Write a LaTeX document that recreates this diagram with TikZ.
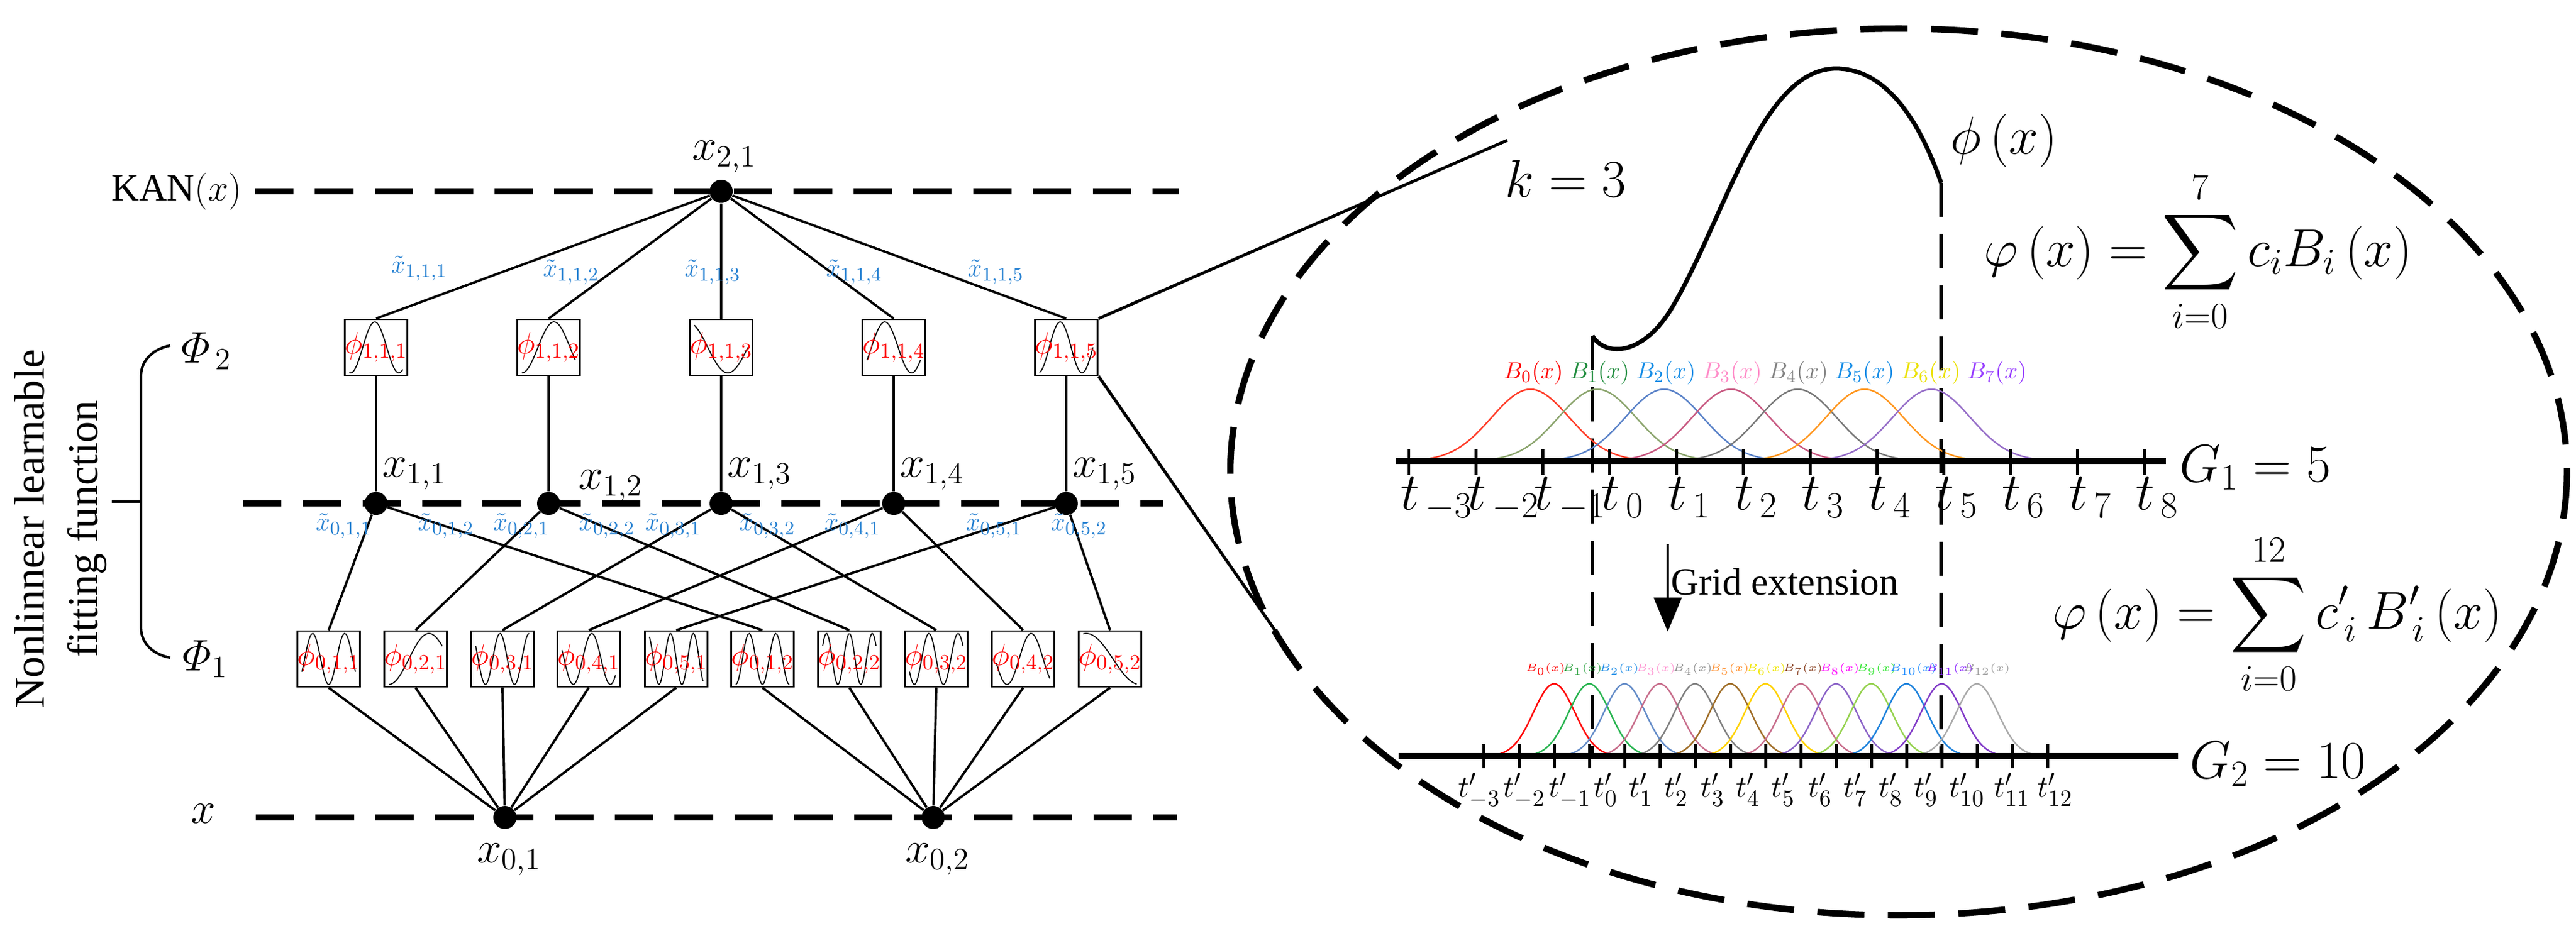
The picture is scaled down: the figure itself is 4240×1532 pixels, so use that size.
\documentclass[tikz,border=0pt]{standalone}
\usepackage{amsmath}
\usepackage{fontspec}
\setmainfont{Liberation Serif}
\usetikzlibrary{arrows.meta}
\newcommand\fsz[1]{\fontsize{#1}{1.25\dimexpr#1pt\relax}\selectfont}
\definecolor{xb}{RGB}{40,130,210}
\definecolor{u0}{RGB}{255,60,40}\definecolor{u1}{RGB}{140,165,110}\definecolor{u2}{RGB}{90,130,200}
\definecolor{u3}{RGB}{200,90,130}\definecolor{u4}{RGB}{120,120,120}\definecolor{u5}{RGB}{255,150,30}
\definecolor{u6}{RGB}{150,110,200}
\definecolor{v0}{RGB}{255,0,0}\definecolor{v1}{RGB}{30,140,60}\definecolor{v2}{RGB}{20,140,230}
\definecolor{v3}{RGB}{255,140,200}\definecolor{v4}{RGB}{130,130,130}\definecolor{v5}{RGB}{20,140,230}
\definecolor{v6}{RGB}{235,225,0}\definecolor{v7}{RGB}{150,60,255}
\definecolor{w0}{RGB}{255,0,0}\definecolor{w1}{RGB}{40,180,80}\definecolor{w2}{RGB}{100,140,200}
\definecolor{w3}{RGB}{200,110,140}\definecolor{w4}{RGB}{128,128,128}\definecolor{w5}{RGB}{160,110,40}
\definecolor{w6}{RGB}{255,210,0}\definecolor{w7}{RGB}{200,110,140}\definecolor{w8}{RGB}{140,100,200}
\definecolor{w9}{RGB}{150,210,80}\definecolor{w10}{RGB}{30,130,220}\definecolor{w11}{RGB}{130,60,200}
\definecolor{w12}{RGB}{170,170,170}
\definecolor{z0}{RGB}{255,0,0}\definecolor{z1}{RGB}{40,160,60}\definecolor{z2}{RGB}{30,140,230}
\definecolor{z3}{RGB}{255,150,210}\definecolor{z4}{RGB}{140,140,140}\definecolor{z5}{RGB}{255,140,40}
\definecolor{z6}{RGB}{240,230,0}\definecolor{z7}{RGB}{140,70,40}\definecolor{z8}{RGB}{255,0,255}
\definecolor{z9}{RGB}{60,230,60}\definecolor{z10}{RGB}{30,140,255}\definecolor{z11}{RGB}{140,40,255}
\definecolor{z12}{RGB}{160,160,160}
\begin{document}
\begin{tikzpicture}[x=0.01cm,y=-0.01cm,
 hl/.style={line width=3pt,dash pattern=on 18pt off 10pt},
 dot/.style={circle,fill=black,inner sep=0pt,minimum size=0.38cm},
 edge/.style={line width=1.1pt},
 fb/.style={draw,line width=0.8pt,minimum size=0.92cm,inner sep=0pt,text=red,font=\fsz{14}},
 big/.style={font=\fsz{22}},
 bl/.style={text=xb,font=\fsz{13},inner sep=0pt}]
\useasboundingbox (0,0) rectangle (4240,1532);

% ---------- box curves (drawn first, behind labels) ----------
\foreach \cx/\cy/\f/\p in {619/572/200/-80, 903/572/150/-120, 1187/572/120/60, 1471/572/180/-30, 1755/572/220/-40,
  541/1085/300/90, 684/1085/120/-150, 827/1085/330/-60, 969/1085/260/-120, 1113/1085/420/0,
  1255/1085/360/90, 1398/1085/420/-90, 1541/1085/330/0, 1684/1085/200/-150, 1827/1085/90/-10}{
  \draw[line width=0.5pt] plot[domain=-1:1,samples=40,smooth] ({\cx+44*\x},{\cy+42*sin(\f*\x+\p)});
}

% ---------- left: layer lines ----------
\node[font=\fsz{18},anchor=east] (kan) at (410,315) {$\mathrm{KAN}(x)$};
\coordinate (kl0) at (420,315); \coordinate (kl1) at (1940,315);
\draw[hl] (kl0) -- (kl1);
\coordinate (ml0) at (400,829); \coordinate (ml1) at (1915,829);
\draw[hl] (ml0) -- (ml1);
\node[font=\fsz{20}] (xin) at (335,1340) {$x$};
\coordinate (bl0) at (421,1346); \coordinate (bl1) at (1937,1346);
\draw[hl] (bl0) -- (bl1);

\node[font=\fsz{20}] (ph2) at (340,578) {$\varPhi_{\,2}$};
\node[font=\fsz{20}] (ph1) at (338,1085) {$\varPhi_1$};
\draw[line width=1.2pt] (280,569) .. controls (250,575) and (232,595) .. (232,619) -- (232,1033) .. controls (232,1058) and (250,1077) .. (280,1083);
\draw[line width=1pt] (184,826) -- (232,826);
\node[rotate=90,align=center,font=\fsz{20}] (nlf) at (100,871) {Nonlinnear learnable\\fitting function};

% ---------- nodes ----------
\node[dot] (x21) at (1187,315) {};
\node[big] (lx21) at (1192,258) {$x_{2,1}$};
\foreach \j/\xx in {1/619,2/903,3/1187,4/1471,5/1755}{
  \node[dot] (x1\j) at (\xx,829) {};
}
\node[big] (lx11) at (682,780) {$x_{1,1}$};
\node[big] (lx12) at (1005,800) {$x_{1,2}$};
\node[big] (lx13) at (1250,780) {$x_{1,3}$};
\node[big] (lx14) at (1534,780) {$x_{1,4}$};
\node[big] (lx15) at (1818,780) {$x_{1,5}$};
\node[dot] (x01) at (831,1346) {};
\node[dot] (x02) at (1536,1346) {};
\node[big] (lx01) at (838,1415) {$x_{0,1}$};
\node[big] (lx02) at (1543,1415) {$x_{0,2}$};

% Phi2 boxes
\node[fb] (q1) at (619,572) {$\phi_{1,1,1}$};
\node[fb] (q2) at (903,572) {$\phi_{1,1,2}$};
\node[fb] (q3) at (1187,572) {$\phi_{1,1,3}$};
\node[fb] (q4) at (1471,572) {$\phi_{1,1,4}$};
\node[fb] (q5) at (1755,572) {$\phi_{1,1,5}$};
% Phi1 boxes
\node[fb] (p11) at (541,1085)  {$\phi_{0,1,1}$};
\node[fb] (p21) at (684,1085)  {$\phi_{0,2,1}$};
\node[fb] (p31) at (827,1085)  {$\phi_{0,3,1}$};
\node[fb] (p41) at (969,1085)  {$\phi_{0,4,1}$};
\node[fb] (p51) at (1113,1085) {$\phi_{0,5,1}$};
\node[fb] (p12) at (1255,1085) {$\phi_{0,1,2}$};
\node[fb] (p22) at (1398,1085) {$\phi_{0,2,2}$};
\node[fb] (p32) at (1541,1085) {$\phi_{0,3,2}$};
\node[fb] (p42) at (1684,1085) {$\phi_{0,4,2}$};
\node[fb] (p52) at (1827,1085) {$\phi_{0,5,2}$};

% edges
\foreach \j in {1,...,5}{
  \draw[edge] (x21) -- (q\j.north);
  \draw[edge] (q\j.south) -- (x1\j);
  \draw[edge] (p\j1.north) -- (x1\j);
  \draw[edge] (p\j2.north) -- (x1\j);
  \draw[edge] (p\j1.south) -- (x01);
  \draw[edge] (p\j2.south) -- (x02);
}
% blue labels
\node[bl] (t111) at (690,442) {$\tilde{x}_{1,1,1}$};
\node[bl] (t112) at (940,448) {$\tilde{x}_{1,1,2}$};
\node[bl] (t113) at (1173,448) {$\tilde{x}_{1,1,3}$};
\node[bl] (t114) at (1406,448) {$\tilde{x}_{1,1,4}$};
\node[bl] (t115) at (1639,448) {$\tilde{x}_{1,1,5}$};
\node[bl] (s011) at (566,866) {$\tilde{x}_{0,1,1}$};
\node[bl] (s012) at (734,866) {$\tilde{x}_{0,1,2}$};
\node[bl] (s021) at (858,866) {$\tilde{x}_{0,2,1}$};
\node[bl] (s022) at (999,866) {$\tilde{x}_{0,2,2}$};
\node[bl] (s031) at (1108,866) {$\tilde{x}_{0,3,1}$};
\node[bl] (s032) at (1263,866) {$\tilde{x}_{0,3,2}$};
\node[bl] (s041) at (1403,866) {$\tilde{x}_{0,4,1}$};
\node[bl] (s051) at (1636,866) {$\tilde{x}_{0,5,1}$};
\node[bl] (s052) at (1776,866) {$\tilde{x}_{0,5,2}$};

% ---------- zoom lines and ellipse ----------
\coordinate (zl1) at (2481,231);
\coordinate (zl2) at (2100,1040);
\draw[line width=1.4pt] (q5.north east) -- (zl1);
\draw[line width=1.4pt] (q5.south east) -- (zl2);
\draw[line width=3pt,dash pattern=on 22pt off 11pt] (3125,777) ellipse [x radius=1100,y radius=730];

% ---------- top curve ----------
\draw[line width=2pt] (2621,553) .. controls (2640,585) and (2700,590) .. (2750,510)
  .. controls (2840,360) and (2900,105) .. (3028,113) .. controls (3120,118) and (3170,230) .. (3195,301);
\draw[line width=1.6pt,dash pattern=on 16pt off 8pt] (2621,553) -- (2621,1245);
\draw[line width=1.6pt,dash pattern=on 16pt off 8pt] (3195,301) -- (3195,1245);
\node[font=\fsz{26}] (kk) at (2577,294) {$k=3$};
\node[font=\fsz{26}] (phx) at (3298,232) {$\phi\left(x\right)$};
\node[font=\fsz{24}] (eq1) at (3618,415) {$\displaystyle \varphi\left(x\right)=\sum_{i=0}^{7}c_iB_i\left(x\right)$};
\node[font=\fsz{24}] (eq2) at (3748,1012) {$\displaystyle \varphi\left(x\right)=\sum_{i=0}^{12}c'_{\,i}\,B'_{\,i}\left(x\right)$};

% ---------- G1 axis ----------
\coordinate (ga0) at (2297,759); \coordinate (ga1) at (3565,759);
\foreach \i in {0,...,6}{
  \draw[u\i,line width=0.7pt] plot[domain=-3.4:3.4,samples=50,smooth] ({2519+110*\i+64*\x},{759-118*exp(-\x*\x/2)});
}
\draw[line width=3pt] (ga0) -- (ga1);
\foreach \j in {-3,...,8}{
  \draw[line width=1.4pt] ({2649+110*\j},740) -- ({2649+110*\j},782);
  \node[font=\fsz{24},anchor=north west,inner sep=0pt] (tl\j) at ({2649+110*\j-14},785) {$t_{\,\j}$};
}
\foreach \i in {0,...,7}{
  \node[font=\fsz{11},text=v\i,inner sep=0pt] (bu\i) at ({2524+109*\i},614) {$B_{\i}\!\left(x\right)$};
}
\node[font=\fsz{26},anchor=west] (g1) at (3575,770) {$G_1=5$};

% ---------- Grid extension ----------
\coordinate (ar0) at (2745,896); \coordinate (ar1) at (2745,1040);
\draw[line width=1.3pt,-{Triangle[length=16pt,width=13pt]}] (ar0) -- (ar1);
\node[font=\fsz{18},anchor=west,inner sep=0pt] (ge) at (2750,958) {Grid extension};

% ---------- G2 axis ----------
\coordinate (gb0) at (2302,1245); \coordinate (gb1) at (3585,1245);
\foreach \i in {0,...,12}{
  \draw[w\i,line width=0.7pt] plot[domain=-3.4:3.4,samples=40,smooth] ({2558+58*\i+34*\x},{1245-119*exp(-\x*\x/2)});
}
\draw[line width=3pt] (gb0) -- (gb1);
\foreach \k in {0,...,16}{
  \draw[line width=1.4pt] ({2442+58*\k},1225) -- ({2442+58*\k},1265);
}
\foreach \j/\gx in {-3/2408,-2/2482,-1/2557,0/2631,1/2689,2/2747,3/2807,4/2865,5/2923,6/2984,7/3042,8/3100,9/3158,10/3216,11/3290,12/3361}{
  \node[font=\fsz{15},anchor=north west,inner sep=0pt] (tp\j) at (\gx-8,1272) {$t'_{\j}$};
}
\foreach \i in {0,...,12}{
  \node[font=\fsz{5},text=z\i,inner sep=0pt] (bv\i) at ({2544+60.5*\i},1102) {$B_{\i}\!\left(x\right)$};
}
\node[font=\fsz{26},anchor=west] (g2) at (3592,1258) {$G_2=10$};
\end{tikzpicture}
\end{document}
